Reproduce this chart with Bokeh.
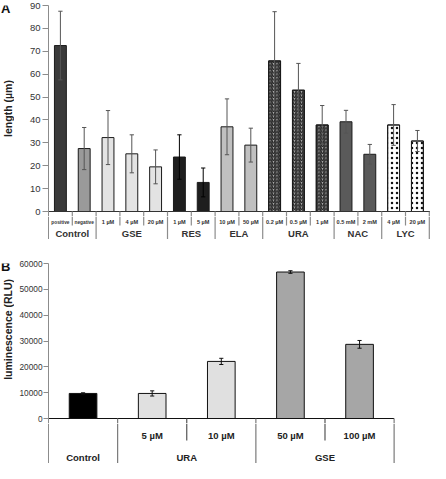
import numpy as np
from bokeh.plotting import figure
from bokeh.layouts import column, row
from bokeh.models import FixedTicker, ColumnDataSource, Range1d
from bokeh.core.properties import value
from bokeh.embed import file_html
from bokeh.resources import INLINE

FONT = "Liberation Sans"

# ---------------- Panel A data ----------------
a_groups = ["Control", "GSE", "RES", "ELA", "URA", "NAC", "LYC"]
a_sub = ["positive", "negative", "1 µM", "4 µM", "20 µM", "1 µM", "5 µM",
         "10 µM", "50 µM", "0.2 µM", "0.5 µM", "1 µM", "0.5 mM", "2 mM",
         "4 µM", "20 µM"]
a_group_of = [0, 0, 1, 1, 1, 2, 2, 3, 3, 4, 4, 4, 5, 5, 6, 6]
a_length = [72.5, 27.5, 32.3, 25.2, 19.5, 23.8, 12.7, 37.0, 29.0,
            65.8, 53.0, 37.8, 39.2, 25.0, 37.8, 30.8]
a_err = [15.0, 9.2, 11.8, 8.3, 7.4, 9.7, 6.3, 12.2, 7.4,
         21.5, 11.7, 8.5, 5.0, 4.3, 8.9, 4.6]
a_ticks = [0, 10, 20, 30, 40, 50, 60, 70, 80, 90]
a_title = "length (µm)"

# ---------------- Panel B data ----------------
b_groups = ["Control", "URA", "GSE"]
b_sub = ["", "5 µM", "10 µM", "50 µM", "100 µM"]
b_group_of = [0, 1, 1, 2, 2]
b_lum = [9700, 9700, 22100, 56700, 28700]
b_err = [250, 1000, 1200, 500, 1500]
b_ticks = [0, 10000, 20000, 30000, 40000, 50000, 60000]
b_title = "luminescence (RLU)"

# styles
a_fill = ["#3a3a3a", "#9a9a9a", "#e3e3e3", "#e3e3e3", "#e3e3e3", "#1e1e1e", "#1e1e1e",
          "#c0c0c0", "#c0c0c0", "#b0b0b0", "#b0b0b0", "#b0b0b0", "#5a5a5a", "#5a5a5a",
          "#ffffff", "#ffffff"]
a_hatch = ["", "", "", "", "", "", "", "", "", "/", "/", "/", "", "", ".", "."]
a_errc = ["#555555"] * 5 + ["#000000"] * 2 + ["#555555"] * 9
b_fill = ["#000000", "#e0e0e0", "#e0e0e0", "#a6a6a6", "#a6a6a6"]

W = 430
SIDE = 14
LEFT = 48            # x of the plotting frame's left edge on the page
AXC = "#8c8c8c"


def base_fig(**kw):
    p = figure(output_backend="svg", toolbar_location=None, title_location=None,
               x_axis_location=None, **kw)
    p.xgrid.visible = False
    p.ygrid.visible = False
    p.outline_line_color = None
    return p


def style_axis(p, ticks, size, tick_out, standoff):
    ax = p.yaxis[0]
    ax.ticker = FixedTicker(ticks=ticks)
    ax.axis_line_color = AXC
    ax.major_tick_line_color = AXC
    ax.major_tick_out = tick_out
    ax.major_tick_in = 0
    ax.minor_tick_out = 0
    ax.minor_tick_in = 0
    ax.major_label_text_font = FONT
    ax.major_label_text_font_size = size
    ax.major_label_text_color = "#333333"
    ax.major_label_standoff = standoff


def side_fig(h, yr, top, letter, letter_y, title, title_y):
    # narrow strip left of the axis; shares the panel's vertical scale
    s = base_fig(width=SIDE, height=h, x_range=(0, SIDE), y_range=yr, y_axis_location=None,
                 min_border_left=0, min_border_right=0, min_border_top=top, min_border_bottom=0)
    s.text(x=[0.5], y=[letter_y], text=[letter], text_font=value(FONT), text_font_size="13px",
           text_font_style="bold", text_align="left", text_baseline="middle", text_color="#111111")
    s.text(x=[7.5], y=[title_y], text=[title], angle=np.pi / 2, text_font=value(FONT),
           text_font_size="10.5px", text_font_style="bold", text_align="center",
           text_baseline="middle", text_color="#222222")
    return s


def seps(group_of):
    full, short = [], []
    for k in range(1, len(group_of)):
        (full if group_of[k] != group_of[k - 1] else short).append(k)
    full.append(len(group_of))
    return full, short


# ================= Panel A (bars) =================
A_XMAX = 16.05
A_TOP, A_PX = 5, 206            # frame top border, pixels from 90 to 0
A_H = A_TOP + A_PX + 5
a_ymin = -5 * 90 / A_PX
a_yr = Range1d(a_ymin, 90)
pa = base_fig(width=W - SIDE, height=A_H, x_range=(0, A_XMAX), y_range=a_yr,
              min_border_left=LEFT - SIDE, min_border_right=0, min_border_top=A_TOP,
              min_border_bottom=0)
style_axis(pa, a_ticks, "9.5px", 6, 2)

xa = np.arange(len(a_length)) + 0.5
la = np.array(a_length)
ea = np.array(a_err)
srcA = ColumnDataSource(dict(x=xa, top=la, fill=a_fill))
pa.vbar(x="x", top="top", bottom=0, width=0.5, fill_color="fill",
        line_color="#1a1a1a", line_width=1, source=srcA)
ura = [i for i, h in enumerate(a_hatch) if h == "/"]
lyc = [i for i, h in enumerate(a_hatch) if h == "."]
pa.vbar(x=xa[ura], top=la[ura], bottom=0, width=0.5, fill_color=None, line_color="#1a1a1a",
        hatch_pattern="/", hatch_color="#222222", hatch_scale=3.5, hatch_weight=1.3)
pa.vbar(x=xa[lyc], top=la[lyc], bottom=0, width=0.5, fill_color=None, line_color="#1a1a1a",
        hatch_pattern=".", hatch_color="#111111", hatch_scale=5, hatch_weight=1.5)

pa.segment(x0=xa, y0=la - ea, x1=xa, y1=la + ea, line_color=a_errc, line_width=1)
pa.segment(x0=xa - 0.09, y0=la + ea, x1=xa + 0.09, y1=la + ea, line_color=a_errc, line_width=1)
pa.segment(x0=xa - 0.09, y0=la - ea, x1=xa + 0.09, y1=la - ea, line_color=a_errc, line_width=1)

fa, sa = seps(a_group_of)
pa.segment(x0=[0], y0=[0], x1=[A_XMAX], y1=[0], line_color="#333333", line_width=1)
allsep = fa + sa
pa.segment(x0=allsep, y0=[0] * len(allsep), x1=allsep, y1=[a_ymin] * len(allsep),
           line_color=AXC, line_width=1.2)

side_a = side_fig(A_H, a_yr, A_TOP, "A", 88.5, a_title, 45)

# ================= Panel A (category table) =================
TA = 28
ppu_a = (W - LEFT) / A_XMAX
ta = base_fig(width=W, height=TA - 5, x_range=(-LEFT / ppu_a, A_XMAX), y_range=(-TA, -5),
              y_axis_location=None,
              min_border_left=0, min_border_right=0, min_border_top=0, min_border_bottom=0)
ta.segment(x0=[0], y0=[-5], x1=[0], y1=[-TA], line_color=AXC, line_width=1)
ta.segment(x0=fa, y0=[-5] * len(fa), x1=fa, y1=[-TA] * len(fa), line_color=AXC, line_width=1.2)
ta.segment(x0=sa, y0=[-5] * len(sa), x1=sa, y1=[-14] * len(sa), line_color=AXC, line_width=1.2)
sub_sizes = ["4.8px" if s in ("positive", "negative") else "5.6px" for s in a_sub]
ta.text(x=xa, y=[-10.5] * len(xa), text=a_sub, text_font=value(FONT), text_font_size=sub_sizes,
        text_font_style="bold", text_align="center", text_baseline="middle", text_color="#333333")
gx = [float(np.mean(xa[[i for i, g in enumerate(a_group_of) if g == k]])) for k in range(len(a_groups))]
ta.text(x=gx, y=[-22] * len(gx), text=a_groups, text_font=value(FONT), text_font_size="9.5px",
        text_font_style="bold", text_align="center", text_baseline="middle", text_color="#333333")

# ================= Panel B (bars) =================
B_XMAX = 5.02
B_RIGHT = 35
B_TOP, B_PX = 24, 155
B_H = B_TOP + B_PX + 5
b_ymin = -5 * 60000 / B_PX
b_yr = Range1d(b_ymin, 60000)
pb = base_fig(width=W - SIDE, height=B_H, x_range=(0, B_XMAX), y_range=b_yr,
              min_border_left=LEFT - SIDE, min_border_right=B_RIGHT, min_border_top=B_TOP,
              min_border_bottom=0)
style_axis(pb, b_ticks, "8.3px", 5, 1)
pb.yaxis[0].major_label_overrides = {t: str(t) for t in b_ticks}

xb = np.arange(len(b_lum)) + 0.5
lb = np.array(b_lum)
eb = np.array(b_err)
pb.vbar(x=xb, top=lb, bottom=0, width=0.4, fill_color=b_fill, line_color="#111111", line_width=1)
pb.segment(x0=xb, y0=lb - eb, x1=xb, y1=lb + eb, line_color="#111111", line_width=1)
pb.segment(x0=xb - 0.03, y0=lb + eb, x1=xb + 0.03, y1=lb + eb, line_color="#111111", line_width=1)
pb.segment(x0=xb - 0.03, y0=lb - eb, x1=xb + 0.03, y1=lb - eb, line_color="#111111", line_width=1)

fb, sb = seps(b_group_of)
pb.segment(x0=[0], y0=[0], x1=[5], y1=[0], line_color="#111111", line_width=1)
pb.segment(x0=fb, y0=[0] * len(fb), x1=fb, y1=[b_ymin] * len(fb), line_color="#7a7a7a", line_width=1.2)
pb.segment(x0=sb, y0=[0] * len(sb), x1=sb, y1=[b_ymin] * len(sb), line_color="#555555", line_width=1.2)

side_b = side_fig(B_H, b_yr, B_TOP, "B", 59000, b_title, 34500)

# ================= Panel B (category table) =================
TB = 45
ppu_b = (W - LEFT - B_RIGHT) / B_XMAX
tb = base_fig(width=W, height=TB - 5, x_range=(-LEFT / ppu_b, B_XMAX + B_RIGHT / ppu_b),
              y_range=(-TB, -5), y_axis_location=None,
              min_border_left=0, min_border_right=0, min_border_top=0, min_border_bottom=0)
tb.segment(x0=[0], y0=[-5], x1=[0], y1=[-TB], line_color=AXC, line_width=1)
tb.segment(x0=fb, y0=[-5] * len(fb), x1=fb, y1=[-TB] * len(fb), line_color="#7a7a7a", line_width=1.2)
tb.segment(x0=sb, y0=[-5] * len(sb), x1=sb, y1=[-22] * len(sb), line_color="#555555", line_width=1.2)
tb.text(x=xb, y=[-17] * len(xb), text=b_sub, text_font=value(FONT), text_font_size="9.5px",
        text_font_style="bold", text_align="center", text_baseline="middle", text_color="#222222")
gxb = [float(np.mean(xb[[i for i, g in enumerate(b_group_of) if g == k]])) for k in range(len(b_groups))]
tb.text(x=gxb, y=[-38.5] * len(gxb), text=b_groups, text_font=value(FONT), text_font_size="9.5px",
        text_font_style="bold", text_align="center", text_baseline="middle", text_color="#222222")

page = column(row(side_a, pa, spacing=0), ta, row(side_b, pb, spacing=0), tb, spacing=0)
open("out.html", "w").write(file_html(page, INLINE))
